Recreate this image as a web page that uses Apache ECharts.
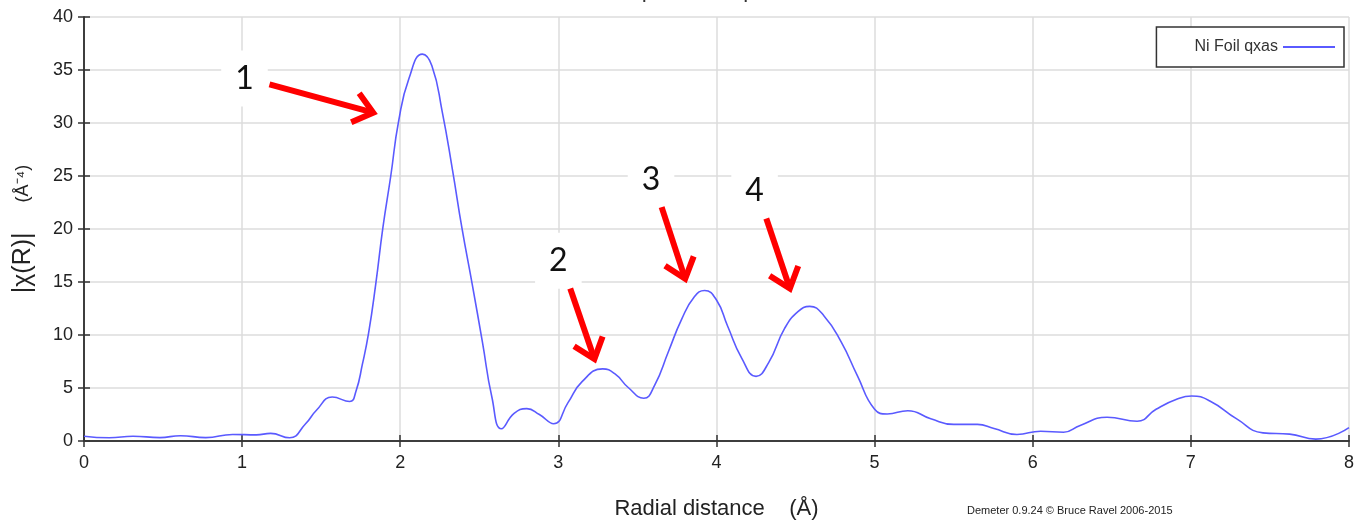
<!DOCTYPE html>
<html>
<head>
<meta charset="utf-8">
<script src="https://cdn.jsdelivr.net/npm/echarts@6/dist/echarts.min.js"></script>
<style>
  html, body { margin: 0; padding: 0; background: #fff; }
  #chart { width: 1357px; height: 525px; }
</style>
</head>
<body>
<div id="chart"></div>
<script>
// radial distance (Å) and |chi(R)|
const rValues = [0.00, 0.16, 0.31, 0.48, 0.61, 0.77, 0.94, 1.09, 1.18, 1.30, 1.40, 1.47, 1.57, 1.68, 1.72,
  1.76, 1.80, 1.845, 1.89, 1.94, 1.99, 2.055, 2.14, 2.20, 2.265, 2.33, 2.39, 2.455, 2.52, 2.58, 2.64,
  2.72, 2.80, 2.88, 2.97, 3.06, 3.15, 3.28, 3.36, 3.44, 3.54, 3.61, 3.695, 3.78, 3.86, 3.925, 4.00,
  4.07, 4.16, 4.25, 4.33, 4.43, 4.515, 4.59, 4.68, 4.79, 4.89, 5.00, 5.08, 5.21, 5.355, 5.50, 5.65,
  5.755, 5.90, 6.05, 6.195, 6.30, 6.47, 6.66, 6.78, 6.91, 7.005, 7.12, 7.29, 7.456, 7.625, 7.79, 8.00];
const chiValues = [0.45, 0.30, 0.45, 0.32, 0.50, 0.32, 0.62, 0.58, 0.72, 0.30, 1.6, 2.9, 4.15, 3.72, 4.7,
  7.2, 10.2, 14.8, 20.1, 25.0, 30.2, 34.2, 36.5, 35.4, 31.1, 25.6, 20.1, 14.8, 9.3, 4.1, 1.15,
  2.6, 3.05, 2.5, 1.63, 3.6, 5.6, 6.8, 6.3, 5.07, 4.03, 5.3, 8.4, 11.5, 13.6, 14.2, 13.3,
  10.85, 7.8, 6.1, 7.4, 10.6, 12.2, 12.7, 11.8, 9.3, 6.2, 3.0, 2.55, 2.86, 2.1, 1.57, 1.57,
  1.17, 0.62, 0.92, 0.83, 1.47, 2.24, 1.87, 3.0, 3.93, 4.24, 3.78, 2.09, 0.77, 0.65, 0.18, 1.26];

const seriesName = 'Ni Foil qxas';

// numbered callouts: label position, arrow tail, arrow tip (data coords)
const calloutLabels = ['1', '2', '3', '4'];
const calloutText = [[1.015, 34.2], [3.0, 17.0], [3.586, 24.67], [4.241, 23.6]];
const calloutTail = [[1.173, 33.64], [3.075, 14.38], [3.653, 22.06], [4.315, 20.99]];
const calloutTip = [[1.829, 30.97], [3.228, 7.74], [3.802, 15.30], [4.464, 14.38]];

const font = '"Liberation Sans", Arial, sans-serif';
const myChart = echarts.init(document.getElementById('chart'));

const axisLine = { show: true, lineStyle: { color: '#333', width: 1.5 } };
const tick = { show: true, inside: true, length: 6, lineStyle: { color: '#333', width: 1.5 } };

const option = {
  animation: false,
  title: {
    text: 'Ni Foil qxas in R space',
    left: 'center',
    top: -20,
    padding: 0,
    textStyle: { fontFamily: font, fontSize: 22, fontWeight: 'normal', color: '#333' }
  },
  legend: {
    right: 13,
    top: 27,
    align: 'right',
    padding: [12, 9, 12, 38],
    borderColor: '#333',
    borderWidth: 1.5,
    backgroundColor: '#fff',
    itemWidth: 52,
    itemHeight: 2,
    icon: 'rect',
    textStyle: { fontFamily: font, fontSize: 16, color: '#333' },
    data: [seriesName]
  },
  grid: { left: 84, right: 4, top: 17, bottom: 74 },
  xAxis: [
    {
      type: 'value', min: 0, max: 8, interval: 1,
      name: 'Radial distance    (Å)',
      nameLocation: 'middle',
      nameGap: 57,
      nameTextStyle: { fontFamily: font, fontSize: 22, color: '#222' },
      axisLine: axisLine, axisTick: tick,
      axisLabel: { fontFamily: font, fontSize: 18, color: '#222', margin: 13 },
      splitLine: { show: true, lineStyle: { color: '#dcdcdc', width: 1.5 } }
    },
    {
      type: 'value', min: 0, max: 8, interval: 1, position: 'top',
      axisLine: axisLine, axisTick: tick,
      axisLabel: { show: false }, splitLine: { show: false }
    }
  ],
  yAxis: [
    {
      type: 'value', min: 0, max: 40, interval: 5,
      name: '{a||χ(R)|}{b|      (Å⁻⁴)}',
      nameLocation: 'middle',
      nameGap: 48,
      nameTextStyle: {
        rich: {
          a: { fontFamily: font, fontSize: 25, color: '#222' },
          b: { fontFamily: font, fontSize: 18, color: '#222' }
        }
      },
      axisLine: axisLine, axisTick: tick,
      axisLabel: { fontFamily: font, fontSize: 18, color: '#222', margin: 11 },
      splitLine: { show: true, lineStyle: { color: '#dcdcdc', width: 1.5 } }
    },
    {
      type: 'value', min: 0, max: 40, interval: 5, position: 'right',
      axisLine: axisLine, axisTick: tick,
      axisLabel: { show: false }, splitLine: { show: false }
    }
  ],
  series: [
    {
      name: seriesName,
      type: 'line',
      xAxisIndex: 0,
      yAxisIndex: 0,
      smooth: 0.5,
      symbol: 'none',
      lineStyle: { color: '#5a5aff', width: 1.6 },
      itemStyle: { color: '#5a5aff' },
      data: rValues.map((r, i) => [r, chiValues[i]])
    }
  ]
};
myChart.setOption(option);

// callouts drawn on top, positioned through the axes
const toPx = p => myChart.convertToPixel({ gridIndex: 0 }, p);
const elements = [];
calloutLabels.forEach((lab, i) => {
  const c = toPx(calloutText[i]);
  elements.push({
    type: 'text', x: c[0], y: c[1], z: 100,
    style: {
      text: lab, fill: '#111', font: '32px Lato, "Open Sans", sans-serif',
      align: 'center', verticalAlign: 'middle',
      backgroundColor: '#fff', padding: [12, 14]
    }
  });
  const a = toPx(calloutTail[i]);
  const b = toPx(calloutTip[i]);
  const ang = Math.atan2(a[1] - b[1], a[0] - b[0]);
  const len = 24, spread = 0.68;
  const arm1 = [b[0] + len * Math.cos(ang + spread), b[1] + len * Math.sin(ang + spread)];
  const arm2 = [b[0] + len * Math.cos(ang - spread), b[1] + len * Math.sin(ang - spread)];
  const style = { stroke: '#ff0000', lineWidth: 6, fill: null, lineJoin: 'miter', lineCap: 'butt' };
  elements.push({ type: 'polyline', z: 101, shape: { points: [a, b] }, style: style });
  elements.push({ type: 'polyline', z: 101, shape: { points: [arm1, b, arm2] }, style: style });
});
elements.push({
  type: 'text', left: 967, top: 505, z: 100,
  style: { text: 'Demeter 0.9.24 © Bruce Ravel 2006-2015', fill: '#222', font: '11px "Liberation Sans", Arial, sans-serif' }
});
myChart.setOption({ graphic: { elements: elements } });
</script>
</body>
</html>
